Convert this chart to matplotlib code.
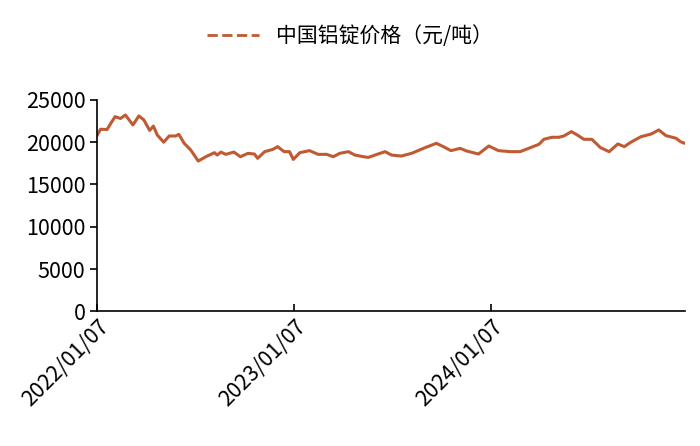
import matplotlib
matplotlib.use("Agg")
import matplotlib.pyplot as plt
import pandas as pd

dates = ["2022-01-07","2022-01-13","2022-01-25","2022-02-03","2022-02-09","2022-02-19","2022-02-28","2022-03-14","2022-03-25","2022-04-03","2022-04-14","2022-04-21","2022-04-28","2022-05-10","2022-05-20","2022-06-01","2022-06-07","2022-06-17","2022-06-29","2022-07-13","2022-07-27","2022-08-12","2022-08-17","2022-08-24","2022-09-02","2022-09-17","2022-09-29","2022-10-13","2022-10-25","2022-10-31","2022-11-13","2022-11-28","2022-12-07","2022-12-19","2022-12-29","2023-01-05","2023-01-17","2023-02-04","2023-02-20","2023-03-08","2023-03-20","2023-04-01","2023-04-17","2023-04-29","2023-05-15","2023-05-24","2023-06-09","2023-06-24","2023-07-06","2023-07-24","2023-08-12","2023-09-06","2023-09-27","2023-10-10","2023-10-24","2023-11-10","2023-11-22","2023-12-14","2024-01-02","2024-01-20","2024-02-11","2024-02-29","2024-03-19","2024-04-04","2024-04-13","2024-04-28","2024-05-11","2024-05-20","2024-06-03","2024-06-14","2024-06-26","2024-07-11","2024-07-27","2024-08-12","2024-08-28","2024-09-09","2024-09-21","2024-10-10","2024-10-29","2024-11-12","2024-11-25","2024-12-14","2024-12-22","2024-12-30"]
prices = [20850,21530,21500,22430,23020,22800,23220,22040,23100,22650,21390,21900,20850,20000,20730,20730,20930,19860,19080,17770,18280,18760,18480,18830,18560,18830,18280,18680,18600,18090,18880,19150,19470,18880,18880,17960,18760,19000,18560,18560,18280,18680,18880,18480,18280,18200,18560,18880,18480,18360,18680,19350,19870,19470,19000,19270,18960,18600,19550,19000,18880,18880,19350,19750,20340,20580,20580,20730,21250,20850,20340,20340,19350,18880,19790,19470,19990,20650,20970,21450,20780,20460,20060,19870]
tick_labels = ["2022/01/07","2023/01/07","2024/01/07"]
legend_label = "中国铝锭价格（元/吨）"

plt.rcParams['font.family'] = ['Noto Sans CJK SC', 'DejaVu Sans']
fig = plt.figure(figsize=(7, 4.46), dpi=100)
ax = fig.add_axes([0.139, 0.302, 0.84, 0.474])
x = pd.to_datetime(dates)
color = "#BF5A32"
ax.plot(x, prices, color=color, lw=2.2, label=legend_label)
ax.set_xlim(pd.Timestamp("2022-01-07"), pd.Timestamp("2024-12-31"))
ax.set_ylim(0, 25000)
ax.set_yticks(range(0, 25001, 5000))
ax.set_xticks(pd.to_datetime(tick_labels, format="%Y/%m/%d"))
ax.set_xticklabels(tick_labels, rotation=45, ha="right", rotation_mode="anchor")
for s in ["top", "right"]:
    ax.spines[s].set_visible(False)
for s in ["left", "bottom"]:
    ax.spines[s].set_linewidth(1.2)
ax.tick_params(axis="y", labelsize=15.5, direction="out", length=5, width=1.2)
ax.tick_params(axis="x", labelsize=15.5, direction="in", length=5, width=1.2)
h = plt.Line2D([], [], color=color, lw=2, ls="--")
fig.legend([h], [legend_label], loc="upper center", bbox_to_anchor=(0.5, 0.985),
           frameon=False, fontsize=15, handlelength=2.5)
fig.savefig("out.png", dpi=100)
